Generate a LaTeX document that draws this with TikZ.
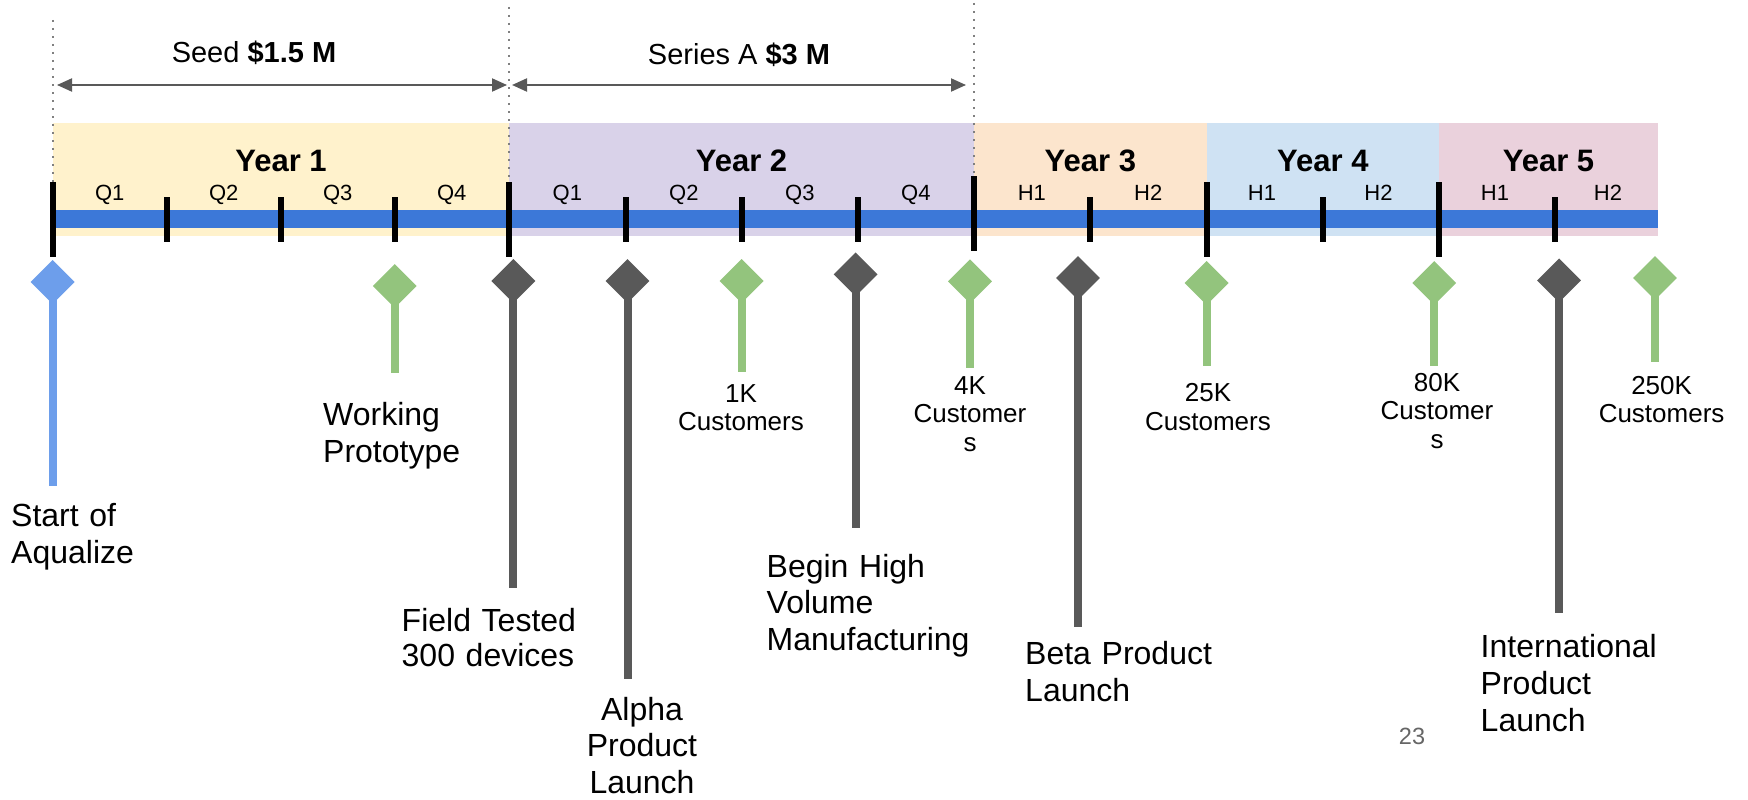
\documentclass[tikz,border=0pt]{standalone}
\usepackage{fontspec}
\setmainfont{Liberation Sans}
\usetikzlibrary{shapes.geometric,arrows.meta}
\definecolor{yA}{HTML}{FFF2CC}
\definecolor{yB}{HTML}{D9D2E9}
\definecolor{yC}{HTML}{FCE5CD}
\definecolor{yD}{HTML}{CFE2F3}
\definecolor{yE}{HTML}{EAD1DC}
\definecolor{barblue}{HTML}{3C78D8}
\definecolor{pinblue}{HTML}{6D9EEB}
\definecolor{pingreen}{HTML}{93C47D}
\definecolor{pindark}{HTML}{595959}
\definecolor{dotgray}{HTML}{808080}
\definecolor{pagegray}{HTML}{666666}
\begin{document}
\begin{tikzpicture}[x=1pt,y=-1pt,
  tickmark/.style={line width=6pt,black},
  guide/.style={draw=dotgray,line width=2pt,dash pattern=on 2pt off 6pt},
  fund/.style={draw=pindark,line width=2pt,{Triangle[length=15pt,width=13pt]}-{Triangle[length=15pt,width=13pt]}},
  yearlbl/.style={anchor=base,inner sep=0pt,font=\fontsize{31}{36}\selectfont\bfseries},
  qlbl/.style={anchor=base,inner sep=0pt,font=\fontsize{22}{26}\selectfont},
  fundlbl/.style={anchor=base,inner sep=0pt,font=\fontsize{29}{34}\selectfont},
  pinhead/.style={diamond,inner sep=0pt,minimum width=44pt,minimum height=44pt,draw=none},
  stem/.style={line width=8pt},
  biglbl/.style={anchor=base west,inner sep=0pt,text width=300pt,align=left,font=\fontsize{32}{37}\selectfont},
  bigc/.style={anchor=base,inner sep=0pt,text width=200pt,align=center,font=\fontsize{32}{37}\selectfont},
  smalllbl/.style={anchor=base,inner sep=0pt,text width=200pt,align=center,font=\fontsize{26}{28.7}\selectfont}
]
\useasboundingbox (0,0) rectangle (1748,800);
\fill[white] (0,0) rectangle (1748,800);

% year bands
\fill[yA] (52.8,122.5) rectangle (509,236);
\fill[yB] (509,122.5) rectangle (974,236);
\fill[yC] (974,122.5) rectangle (1206.8,236);
\fill[yD] (1206.8,122.5) rectangle (1439,236);
\fill[yE] (1439,122.5) rectangle (1658,236);

% blue timeline bar
\fill[barblue] (52.8,210) rectangle (1658,228);

% dotted guides
\draw[guide] (52.8,20) -- (52.8,182);
\draw[guide] (509,7) -- (509,182);
\draw[guide] (974,3) -- (974,176);

% ticks
\foreach \x in {166.8,280.9,394.5,625.8,742,857.7,1089.6,1322.8,1555}
  \draw[tickmark] (\x,197) -- (\x,242);
\foreach \x in {52.8,509,1206.8,1439}
  \draw[tickmark] (\x,182) -- (\x,257);
\draw[tickmark] (974,176) -- (974,251);

% year labels
\node[yearlbl] (yr1) at (281,171) {Year 1};
\node[yearlbl] (yr2) at (741.5,171) {Year 2};
\node[yearlbl] (yr3) at (1090.4,171) {Year 3};
\node[yearlbl] (yr4) at (1322.9,171) {Year 4};
\node[yearlbl] (yr5) at (1548.5,171) {Year 5};

% quarter / half labels
\foreach \n/\x/\t in {qa/109.8/Q1,qb/223.8/Q2,qc/337.7/Q3,qd/451.8/Q4,
  qe/567.4/Q1,qf/683.9/Q2,qg/799.9/Q3,qh/915.9/Q4,
  ha/1031.8/H1,hb/1148.2/H2,hc/1262/H1,hd/1378.5/H2,he/1495/H1,hf/1608/H2}
  \node[qlbl] (\n) at (\x,200) {\t};

% funding arrows
\coordinate (f0) at (57,85);
\coordinate (f1) at (507,85);
\coordinate (f2) at (512,85);
\coordinate (f3) at (966,85);
\draw[fund] (f0) -- (f1);
\draw[fund] (f2) -- (f3);
\node[fundlbl] (seed) at (254,63) {Seed \textbf{\$1.5 M}};
\node[fundlbl] (seriesa) at (739,65) {Series A \textbf{\$3 M}};

% milestone pins
\foreach \n/\x/\y/\b/\c in {a/52.6/282/486/pinblue,
  b/394.7/286/373/pingreen,
  c/513.4/281/588/pindark,
  d/627.5/281/679/pindark,
  e/741.6/281/372/pingreen,
  f/855.6/274.4/528/pindark,
  g/970/281.4/368/pingreen,
  h/1078/278/627/pindark,
  i/1206.6/283/366/pingreen,
  j/1434.3/283/366/pingreen,
  k/1559/280.4/613/pindark,
  l/1655/278/362/pingreen}{
  \coordinate (c\n) at (\x,\y);
  \coordinate (e\n) at (\x,\b);
  \draw[stem,draw=\c] (c\n) -- (e\n);
  \node[pinhead,fill=\c] (d\n) at (c\n) {};
}

% milestone labels
\node[biglbl] (la) at (11,526) {Start of\\Aqualize};
\node[biglbl] (lb) at (323,425) {Working\\Prototype};
\node[biglbl,font=\fontsize{32}{35.5}\selectfont] (lc) at (401.5,631) {Field Tested\\300 devices};
\node[bigc,font=\fontsize{32}{36.5}\selectfont] (ld) at (642,720) {Alpha\\Product\\Launch};
\node[smalllbl] (le) at (741,402) {1K\\Customers};
\node[biglbl,font=\fontsize{32}{36.5}\selectfont] (lf) at (766.5,577) {Begin High\\Volume\\Manufacturing};
\node[smalllbl] (lg) at (970,394) {4K\\Customer\\s};
\node[biglbl] (lh) at (1025,664) {Beta Product\\Launch};
\node[smalllbl] (li) at (1208,401.6) {25K\\Customers};
\node[smalllbl] (lj) at (1437,391) {80K\\Customer\\s};
\node[biglbl] (lk) at (1480.5,657.5) {International\\Product\\Launch};
\node[smalllbl] (ll) at (1661.6,394) {250K\\Customers};

% page number
\node[anchor=base,inner sep=0pt,text=pagegray,font=\fontsize{23.5}{28}\selectfont] (pg) at (1412,744) {23};
\end{tikzpicture}
\end{document}
